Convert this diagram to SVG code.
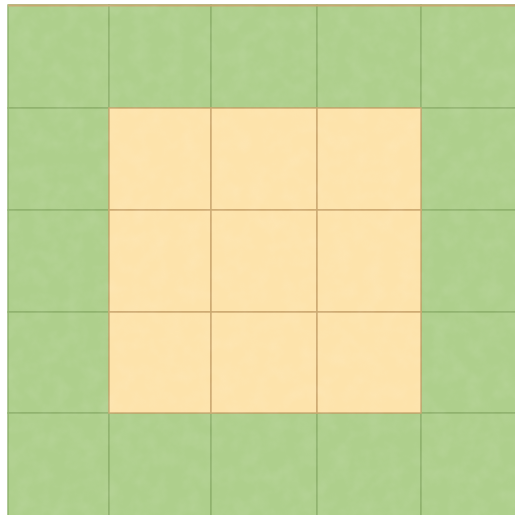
<svg xmlns="http://www.w3.org/2000/svg" width="515" height="515" viewBox="0 0 515 515">
  <defs>
    <filter id="tex" x="0" y="0" width="100%" height="100%">
      <feTurbulence type="fractalNoise" baseFrequency="0.06" numOctaves="3" seed="4" result="n"/>
      <feColorMatrix in="n" type="matrix" values="0 0 0 0 1  0 0 0 0 1  0 0 0 0 1  0 0 0 -1.2 0.75" result="w"/>
      <feComposite in="w" in2="SourceGraphic" operator="in"/>
    </filter>
    <style>
      .g { fill: #aecf8c; stroke: #8eb06c; stroke-width: 1.4; }
      .s { fill: #fde3ab; stroke: #c9a66e; stroke-width: 1.4; }
      .top { stroke: #c8a870; stroke-width: 2; }
    </style>
  </defs>
  <rect width="515" height="515" fill="#ffffff"/>
  <g id="outer">
    <rect class="g" x="8" y="5" width="101" height="103"/>
    <rect class="g" x="109" y="5" width="102" height="103"/>
    <rect class="g" x="211" y="5" width="106" height="103"/>
    <rect class="g" x="317" y="5" width="104" height="103"/>
    <rect class="g" x="421" y="5" width="100" height="103"/>
    <rect class="g" x="8" y="108" width="101" height="102"/>
    <rect class="g" x="421" y="108" width="100" height="102"/>
    <rect class="g" x="8" y="210" width="101" height="102"/>
    <rect class="g" x="421" y="210" width="100" height="102"/>
    <rect class="g" x="8" y="312" width="101" height="101"/>
    <rect class="g" x="421" y="312" width="100" height="101"/>
    <rect class="g" x="8" y="413" width="101" height="108"/>
    <rect class="g" x="109" y="413" width="102" height="108"/>
    <rect class="g" x="211" y="413" width="106" height="108"/>
    <rect class="g" x="317" y="413" width="104" height="108"/>
    <rect class="g" x="421" y="413" width="100" height="108"/>
  </g>
  <g id="inner">
    <rect class="s" x="109" y="108" width="102" height="102"/>
    <rect class="s" x="211" y="108" width="106" height="102"/>
    <rect class="s" x="317" y="108" width="104" height="102"/>
    <rect class="s" x="109" y="210" width="102" height="102"/>
    <rect class="s" x="211" y="210" width="106" height="102"/>
    <rect class="s" x="317" y="210" width="104" height="102"/>
    <rect class="s" x="109" y="312" width="102" height="101"/>
    <rect class="s" x="211" y="312" width="106" height="101"/>
    <rect class="s" x="317" y="312" width="104" height="101"/>
  </g>
  <line class="top" x1="8" y1="5.5" x2="515" y2="5.5"/>
  <rect x="8" y="5" width="507" height="510" fill="#ffffff" opacity="0.12" filter="url(#tex)"/>
</svg>
